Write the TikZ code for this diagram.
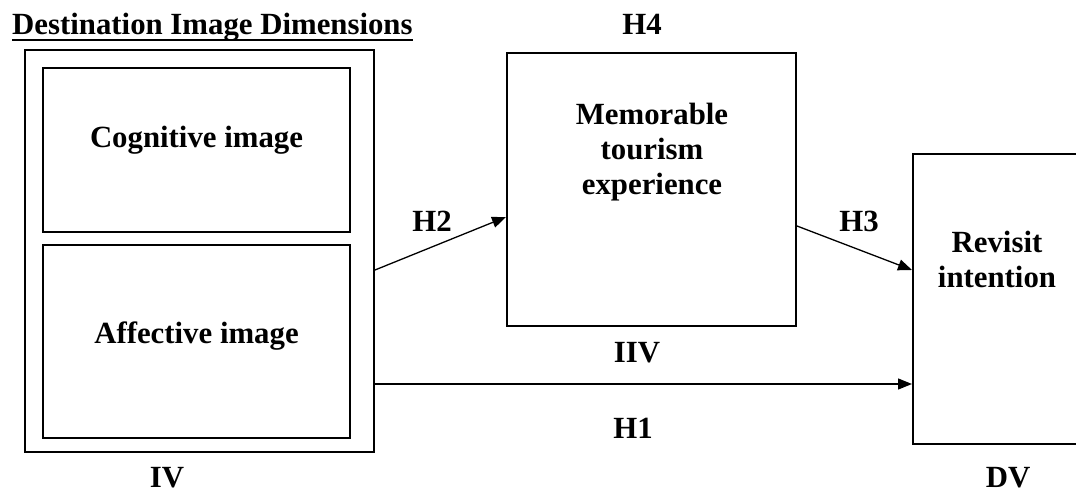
\documentclass[tikz,border=0pt]{standalone}
\usepackage{fontspec}
\setmainfont{Liberation Serif}
\usepackage{tikz}
\usetikzlibrary{arrows.meta}
\tikzset{
    box/.style={draw, line width=2pt, inner sep=0pt},
    boxtext/.style={font=\fontsize{30.8}{35}\selectfont\bfseries, align=center, inner sep=0pt},
    hyp/.style={font=\fontsize{30.8}{35}\selectfont\bfseries, inner sep=0pt, anchor=base},
    link/.style={line width=1.3pt, -{Triangle[length=14pt, width=11pt]}}
}

\begin{document}
\begin{tikzpicture}[x=1pt, y=-1pt]
    \useasboundingbox (0,0) rectangle (1076,494);
    \clip (0,0) rectangle (1076,494);
    % boxes
    \node[box, minimum width=349pt, minimum height=402pt] (dims) at (199.5,251) {};
    \node[box, minimum width=307pt, minimum height=164pt] (cog) at (196.5,150) {};
    \node[box, minimum width=307pt, minimum height=193pt] (aff) at (196.5,341.5) {};
    \node[box, minimum width=289pt, minimum height=273pt] (mte) at (651.5,189.5) {};
    \node[box, minimum width=180pt, minimum height=290pt] (rev) at (1003,299) {};
    % texts
    \node[hyp, anchor=base west] (title) at (12,35) {Destination Image Dimensions};
    \draw[line width=2pt] ([yshift=-5pt]title.base west) -- ([yshift=-5pt]title.base east);
    \node[hyp] (cogtext) at (196.5,148) {Cognitive image};
    \node[hyp] (afftext) at (196.5,343) {Affective image};
    \node[boxtext] (mtetext) at (652,152) {Memorable\\tourism\\experience};
    \node[boxtext] (revtext) at (997,259.5) {Revisit\\intention};
    \node[hyp] (iv) at (167,487) {IV};
    \node[hyp] (iiv) at (637,362) {IIV};
    \node[hyp] (dv) at (1008,487) {DV};
    % hypotheses
    \draw[link] ([yshift=-19pt]dims.east) -- ([yshift=-27.5pt]mte.west);
    \draw[link] ([yshift=-36.5pt]mte.east) -- ([yshift=29pt]rev.west);
    \draw[link] ([yshift=-133pt]dims.east) -- ([yshift=-85pt]rev.west);
    \node[hyp] (h1) at (633,438) {H1};
    \node[hyp] (h2) at (432,232) {H2};
    \node[hyp] (h3) at (859,232) {H3};
    \node[hyp] (h4) at (642,35) {H4};
\end{tikzpicture}
\end{document}
